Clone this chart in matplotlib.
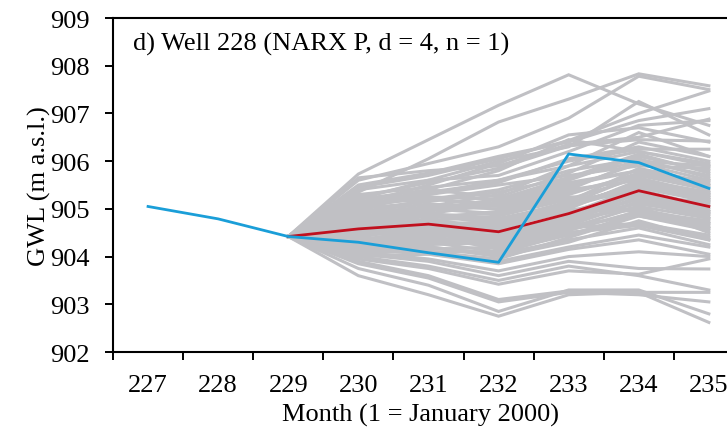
import matplotlib
matplotlib.use("Agg")
import matplotlib.pyplot as plt
from matplotlib.ticker import FixedLocator, NullFormatter

# ---------------- data ----------------
months_obs = [227, 228, 229, 230, 231, 232, 233, 234, 235]
observed = [905.05, 904.79, 904.42, 904.30, 904.08, 903.88, 906.15, 905.97, 905.43]

months_fc = [229, 230, 231, 232, 233, 234, 235]
median_fc = [904.42, 904.58, 904.68, 904.52, 904.90, 905.38, 905.05]

start_level = 904.42
# ensemble members: values for months 230..235 (all start at month 229 = start_level)
ensemble = [
    # upper members
    [905.73, 906.45, 907.17, 907.81, 907.20, 906.75],
    [905.35, 906.05, 906.82, 907.30, 907.83, 907.58],
    [905.60, 905.95, 906.30, 906.90, 907.78, 907.50],
    [905.20, 905.60, 906.00, 906.30, 907.25, 906.55],
    [905.50, 905.75, 906.10, 906.40, 906.85, 907.10],
    [905.65, 905.80, 905.90, 906.35, 906.50, 906.88],
    [905.10, 905.50, 905.95, 906.55, 906.70, 906.40],
    [905.40, 905.60, 905.70, 906.20, 906.75, 906.85],
    [905.00, 905.40, 905.80, 906.45, 906.20, 905.90],
    [905.30, 905.45, 905.60, 905.90, 906.60, 906.10],
    [905.45, 905.70, 906.05, 906.43, 907.00, 907.47],
    [905.25, 905.55, 905.85, 906.32, 906.45, 906.42],
    # core members
    [904.05, 904.20, 904.05, 904.35, 904.60, 904.25],
    [904.15, 904.30, 904.25, 904.50, 904.70, 904.45],
    [904.25, 904.10, 903.95, 904.40, 904.85, 904.60],
    [904.35, 904.45, 904.15, 904.60, 905.05, 904.50],
    [904.45, 904.55, 904.35, 904.80, 905.20, 904.90],
    [904.55, 904.60, 904.50, 904.70, 905.35, 905.00],
    [904.65, 904.85, 904.70, 905.10, 905.50, 905.20],
    [904.75, 904.70, 904.60, 905.00, 905.60, 905.35],
    [904.85, 905.00, 904.90, 905.30, 905.75, 905.45],
    [904.95, 905.10, 905.05, 905.45, 905.95, 905.60],
    [905.05, 905.25, 905.20, 905.60, 906.10, 905.80],
    [904.30, 904.50, 904.45, 904.90, 905.45, 905.15],
    [904.50, 904.40, 904.20, 904.55, 904.95, 904.75],
    [904.70, 904.95, 905.15, 905.55, 905.80, 905.50],
    [904.60, 904.75, 904.85, 905.20, 905.65, 905.30],
    [904.40, 904.65, 904.75, 905.15, 905.40, 905.05],
    [904.20, 904.35, 904.40, 904.85, 905.30, 904.95],
    [904.90, 905.20, 905.40, 905.80, 906.05, 905.65],
    [905.10, 905.30, 905.50, 905.70, 905.90, 905.85],
    [904.80, 905.05, 905.30, 905.90, 906.20, 905.95],
    [904.10, 904.25, 904.30, 904.70, 905.15, 904.80],
    [904.35, 904.30, 904.10, 904.45, 904.90, 904.65],
    [904.55, 904.80, 904.95, 905.35, 905.70, 905.40],
    [905.15, 905.35, 905.55, 906.05, 906.30, 906.00],
    [904.25, 904.40, 904.60, 905.05, 905.55, 905.25],
    [904.65, 904.50, 904.30, 904.65, 905.15, 904.85],
    [904.00, 904.05, 903.90, 904.20, 904.45, 904.20],
    [904.15, 904.05, 903.85, 904.15, 904.35, 904.05],
    [904.95, 904.90, 904.75, 905.15, 905.85, 905.55],
    [905.20, 905.40, 905.25, 905.75, 906.40, 906.10],
    [904.45, 904.60, 904.65, 905.00, 904.95, 904.60],
    [904.75, 904.85, 904.90, 905.25, 905.25, 905.15],
    [904.05, 904.15, 904.20, 904.60, 904.70, 904.40],
    [904.60, 904.90, 905.10, 905.40, 906.00, 905.90],
    [905.00, 905.30, 905.60, 906.00, 906.25, 906.25],
    [904.85, 904.75, 904.50, 904.85, 905.10, 904.90],
    [904.20, 904.20, 904.00, 904.30, 904.75, 904.35],
    [904.40, 904.35, 904.25, 904.65, 904.85, 904.55],
    [904.50, 904.70, 904.60, 904.95, 905.30, 905.10],
    [904.70, 904.60, 904.40, 904.75, 905.25, 904.95],
    [904.90, 905.05, 905.00, 905.40, 905.60, 905.25],
    [905.00, 905.15, 905.35, 905.65, 906.15, 905.75],
    [904.30, 904.20, 904.05, 904.50, 904.65, 904.35],
    [904.60, 904.65, 904.55, 905.05, 905.45, 905.20],
    [904.80, 904.90, 904.80, 905.10, 905.70, 905.60],
    [904.10, 904.10, 904.10, 904.55, 904.95, 904.70],
    [904.35, 904.55, 904.70, 905.10, 905.50, 905.35],
    [904.75, 905.00, 905.20, 905.65, 906.00, 905.70],
    [904.55, 904.45, 904.35, 904.75, 905.05, 904.80],
    [905.10, 905.20, 905.10, 905.50, 905.80, 905.50],
    [904.25, 904.30, 904.35, 904.80, 905.00, 904.70],
    [904.65, 904.75, 904.65, 905.05, 905.55, 905.30],
    # lower members
    [903.60, 903.20, 902.75, 903.20, 903.25, 902.62],
    [903.75, 903.40, 902.85, 903.30, 903.30, 902.80],
    [903.85, 903.55, 903.05, 903.25, 903.20, 903.05],
    [903.90, 903.60, 903.10, 903.28, 903.25, 903.25],
    [904.00, 903.80, 903.50, 903.80, 903.60, 903.30],
    [904.05, 903.90, 903.60, 903.90, 903.75, 903.74],
    [903.95, 903.75, 903.42, 903.70, 903.63, 903.95],
    [904.10, 903.95, 903.70, 904.00, 904.10, 904.00],
]

xtick_labels = ["227", "228", "229", "230", "231", "232", "233", "234", "235"]
yticks = [902, 903, 904, 905, 906, 907, 908, 909]

# ---------------- figure ----------------
plt.rcParams["font.family"] = ["Liberation Serif", "DejaVu Serif"]

W, H = 727, 435
fig = plt.figure(figsize=(W / 100, H / 100), dpi=100)
left_px, right_px, top_px, bot_px = 113, 727, 19, 353
ax = fig.add_axes([left_px / W, (H - bot_px) / H, (right_px - left_px) / W, (bot_px - top_px) / H])

gray = "#C0C0C4"
for member in ensemble:
    ax.plot(months_fc, [start_level] + member, color=gray, lw=2.2, solid_joinstyle="miter", zorder=2)

ax.plot(months_fc, median_fc, color="#C0101E", lw=2.0, zorder=3)
ax.plot(months_obs, observed, color="#1A9ED8", lw=2.0, zorder=4)

cat_px = 70.1
ax.set_xlim(226.5, 226.5 + (right_px - left_px) / cat_px)
ax.set_ylim(902, 909)

# ticks between categories, labels at categories
ax.xaxis.set_major_locator(FixedLocator([226.5 + i for i in range(10)]))
ax.xaxis.set_major_formatter(NullFormatter())
ax.xaxis.set_minor_locator(FixedLocator(months_obs))
ax.set_xticklabels(xtick_labels, minor=True)
ax.tick_params(axis="x", which="major", direction="out", length=6, width=1.4, color="black")
ax.tick_params(axis="x", which="minor", length=0, pad=16, labelsize=19)
ax.set_yticks(yticks)
ax.set_yticklabels([str(v) for v in yticks])
ax.tick_params(axis="y", which="major", direction="out", length=5.5, width=1.4, pad=11, labelsize=19)

for side in ["left", "bottom", "top"]:
    ax.spines[side].set_linewidth(1.5)
    ax.spines[side].set_color("black")
ax.spines["right"].set_visible(False)

ax.set_xlabel("Month (1 = January 2000)", fontsize=19)
ax.xaxis.set_label_coords((420 - left_px) / (right_px - left_px), (bot_px - 404) / (bot_px - top_px))
ax.set_ylabel("GWL (m a.s.l.)", fontsize=19)
ax.yaxis.set_label_coords((51 - left_px) / (right_px - left_px), 0.5)

ax.text(0.033, 0.925, "d) Well 228 (NARX P, d = 4, n = 1)", transform=ax.transAxes,
        fontsize=19, ha="left", va="center")

fig.savefig("out.png", dpi=100)
